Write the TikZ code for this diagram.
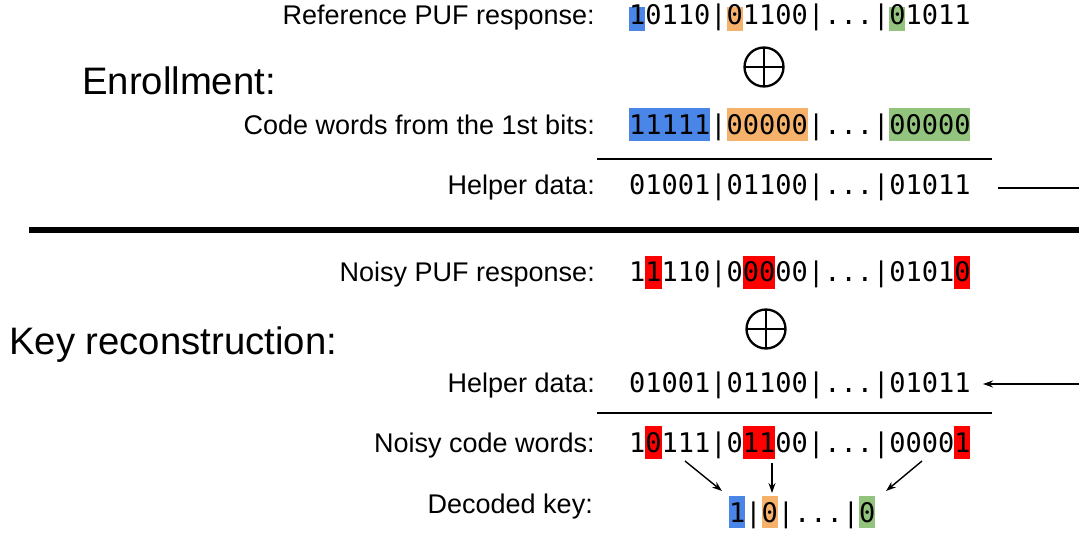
\documentclass[tikz,border=0pt]{standalone}
\usepackage{fontspec}
\setmainfont{Liberation Sans}
\setmonofont{DejaVu Sans Mono}
\usetikzlibrary{arrows.meta}
\definecolor{hlblue}{HTML}{4A86E8}
\definecolor{hlorange}{HTML}{F6B26B}
\definecolor{hlgreen}{HTML}{93C47D}
\definecolor{hlred}{HTML}{FF0000}
% highlight cells: colour, x of first char, first index, count, top, bottom
\newcommand\hlcell[6]{\fill[#1] ({#2+#3*16.25},#5) rectangle ({#2+(#3+#4)*16.25},#6);}
\begin{document}
\begin{tikzpicture}[x=1pt,y=-1pt,
  lbl/.style={anchor=base east,inner sep=0pt,font=\fontsize{27}{32}\selectfont},
  head/.style={anchor=base west,inner sep=0pt,font=\fontsize{38.3}{44}\selectfont},
  bits/.style={anchor=base west,inner sep=0pt,font=\fontsize{27}{32}\selectfont\ttfamily},
  xorop/.style={circle,draw,line width=2.3pt,minimum size=39pt,inner sep=0pt},
  rule/.style={line width=1.5pt},
  link/.style={line width=1.4pt},
  tip/.style={-{Stealth[length=10pt,width=7pt]}}]
\useasboundingbox (0,0) rectangle (1079,534);

% ---------- enrollment ----------
\node[head] (enr) at (82,95) {Enrollment:};

\hlcell{hlblue}{629}{0}{1}{7}{31}
\hlcell{hlorange}{629}{6}{1}{7}{31}
\hlcell{hlgreen}{629}{16}{1}{7}{31}
\node[lbl] (l1) at (595,25) {Reference PUF response:};
\node[bits] (r1) at (629,25) {10110|01100|...|01011};

\node[xorop] (x1) at (764,67) {};
\draw[line width=2.3pt] ([yshift=-2pt]x1.north) -- ([yshift=2pt]x1.south)
  ([xshift=2pt]x1.west) -- ([xshift=-2pt]x1.east);

\hlcell{hlblue}{629}{0}{5}{108}{141}
\hlcell{hlorange}{629}{6}{5}{108}{141}
\hlcell{hlgreen}{629}{16}{5}{108}{141}
\node[lbl] (l2) at (595,135) {Code words from the 1st bits:};
\node[bits] (r2) at (629,135) {11111|00000|...|00000};

\coordinate (rule1a) at (597,159);
\coordinate (rule1b) at (992,159);
\draw[rule] (rule1a) -- (rule1b);

\node[lbl] (l3) at (595,195) {Helper data:};
\node[bits] (hd1) at (629,195) {01001|01100|...|01011};
\coordinate (hd1out) at (998,188);
\coordinate (edge1) at (1079,188);
\draw[link] (hd1out) -- (edge1);

% ---------- separator ----------
\coordinate (sepa) at (29,230);
\coordinate (sepb) at (1079,230);
\draw[line width=6pt] (sepa) -- (sepb);

% ---------- key reconstruction ----------
\node[head] (rec) at (9,355) {Key reconstruction:};

\hlcell{hlred}{629}{1}{1}{256}{289}
\hlcell{hlred}{629}{7}{2}{256}{289}
\hlcell{hlred}{629}{20}{1}{256}{289}
\node[lbl] (l4) at (595,282) {Noisy PUF response:};
\node[bits] (r3) at (629,282) {11110|00000|...|01010};

\node[xorop] (x2) at (766,329) {};
\draw[line width=2.3pt] ([yshift=-2pt]x2.north) -- ([yshift=2pt]x2.south)
  ([xshift=2pt]x2.west) -- ([xshift=-2pt]x2.east);

\node[lbl] (l5) at (595,392) {Helper data:};
\node[bits] (hd2) at (629,392) {01001|01100|...|01011};
\coordinate (edge2) at (1079,384);
\coordinate (hd2in) at (983,384);
\draw[link,tip] (edge2) -- (hd2in);

\coordinate (rule2a) at (597,413);
\coordinate (rule2b) at (992,413);
\draw[rule] (rule2a) -- (rule2b);

\hlcell{hlred}{629}{1}{1}{426}{459}
\hlcell{hlred}{629}{7}{2}{426}{459}
\hlcell{hlred}{629}{20}{1}{426}{459}
\node[lbl] (l6) at (595,453) {Noisy code words:};
\node[bits] (r5) at (629,453) {10111|01100|...|00001};

\hlcell{hlblue}{729}{0}{1}{496}{528}
\hlcell{hlorange}{729}{2}{1}{496}{528}
\hlcell{hlgreen}{729}{8}{1}{496}{528}
\node[lbl] (l7) at (593,513) {Decoded key:};
\node[bits] (key) at (729,522) {1|0|...|0};

% decoding arrows
\coordinate (s1) at (685,461);
\coordinate (e1) at (722,491);
\coordinate (s2) at (772,463);
\coordinate (e2) at (772,493);
\coordinate (s3) at (922,461);
\coordinate (e3) at (886,491);
\draw[link,tip] (s1) -- (e1);
\draw[link,tip] (s2) -- (e2);
\draw[link,tip] (s3) -- (e3);
\end{tikzpicture}
\end{document}
